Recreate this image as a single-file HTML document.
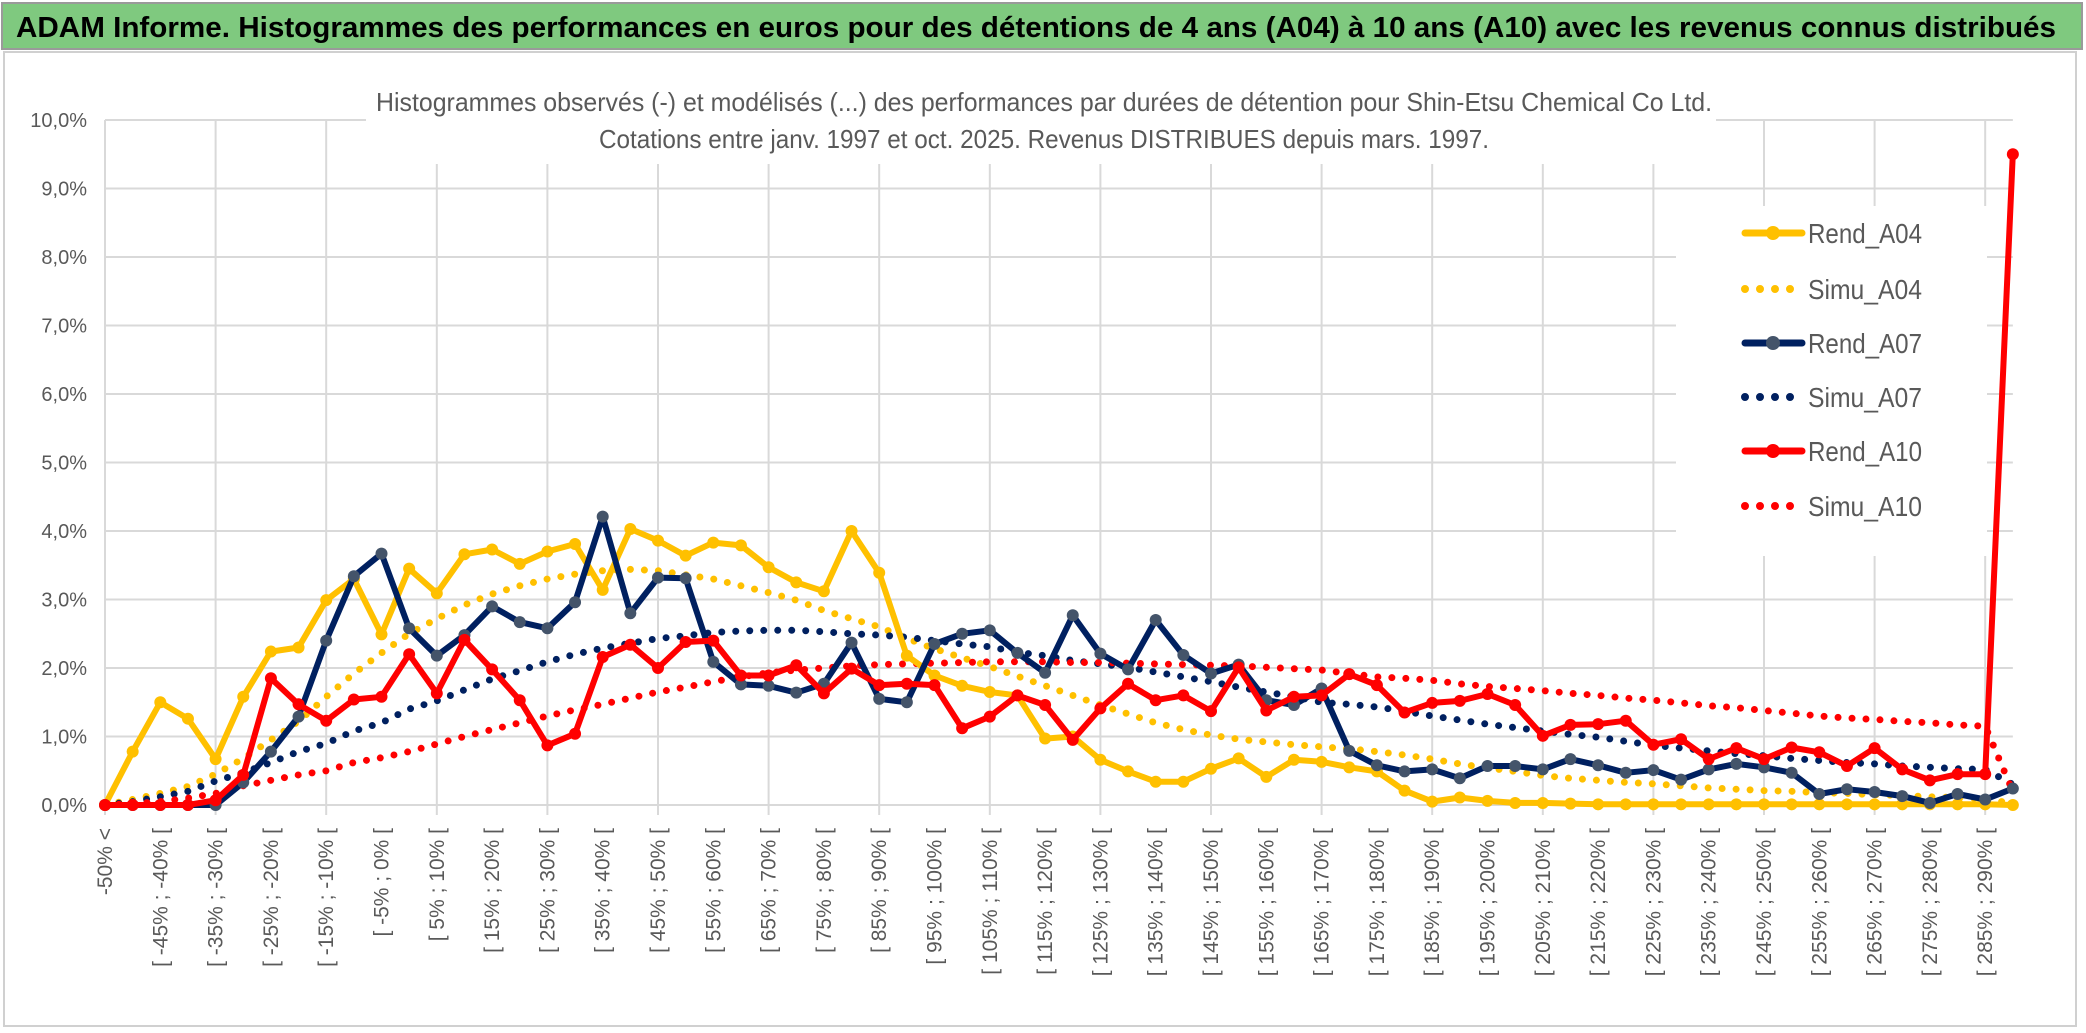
<!DOCTYPE html>
<html><head><meta charset="utf-8"><style>
html,body{margin:0;padding:0;background:#fff;}
svg{display:block;font-family:"Liberation Sans",sans-serif;}
</style></head><body>
<svg id="chart" width="2086" height="1033" viewBox="0 0 2086 1033">
<rect x="0" y="0" width="2086" height="1033" fill="#fff"/>
<rect x="2" y="3" width="2080" height="46" fill="#7fc97f" stroke="#9a9a9a" stroke-width="2"/>
<text x="1036" y="37" text-anchor="middle" font-size="29" font-weight="bold" fill="#000" textLength="2040" lengthAdjust="spacingAndGlyphs">ADAM Informe. Histogrammes des performances en euros pour des détentions de 4 ans (A04) à 10 ans (A10) avec les revenus connus distribués</text>
<rect x="4" y="52" width="2072" height="974" fill="none" stroke="#d0d0d0" stroke-width="2"/>
<g id="grid"></g>
<rect x="366" y="80" width="1350" height="84" fill="#fff"/>
<text x="1044" y="111" text-anchor="middle" font-size="26" fill="#595959" textLength="1336" lengthAdjust="spacingAndGlyphs">Histogrammes observés (-) et modélisés (...) des performances par durées de détention pour Shin-Etsu Chemical Co Ltd.</text>
<text x="1044" y="148" text-anchor="middle" font-size="26" fill="#595959" textLength="890" lengthAdjust="spacingAndGlyphs">Cotations entre janv. 1997 et oct. 2025. Revenus DISTRIBUES depuis mars. 1997.</text>
<rect x="1676" y="206" width="311" height="350" fill="#fff"/>
<g id="yaxis"></g>
<g id="xaxis"></g>
<g id="series"></g>
<g id="legend"></g>
</svg>
<script>
const yTicks = [0,1,2,3,4,5,6,7,8,9,10];
const rendA04 = [0,0.78,1.5,1.26,0.67,1.58,2.24,2.3,2.99,3.3, 2.49,3.45,3.09,3.66,3.73,3.52,3.7,3.81,3.14,4.03, 3.86,3.64,3.83,3.79,3.47,3.25,3.12,4.0,3.39,2.18, 1.89,1.74,1.65,1.6,0.97,1.0,0.66,0.49,0.34,0.34, 0.53,0.68,0.41,0.66,0.63,0.55,0.49,0.21,0.05,0.11, 0.06,0.03,0.03,0.02,0.01,0.01,0.01,0.01,0.01,0.01, 0.01,0.01,0.01,0.01,0.01,0.01,0.01,0.01,0.01,0];
const simuA04 = [0,0.08,0.17,0.27,0.45,0.68,0.95,1.22,1.58,1.92, 2.22,2.5,2.72,2.92,3.08,3.2,3.3,3.37,3.42,3.44, 3.42,3.36,3.3,3.2,3.1,2.99,2.84,2.72,2.6,2.43, 2.28,2.15,2.02,1.88,1.74,1.6,1.46,1.33,1.2,1.1, 1.02,0.96,0.92,0.88,0.85,0.82,0.78,0.73,0.67,0.6, 0.54,0.49,0.43,0.39,0.36,0.33,0.31,0.28,0.25,0.23, 0.21,0.2,0.18,0.17,0.15,0.14,0.12,0.11,0.09,0.02];
const rendA07 = [0,0,0,0,0,0.33,0.78,1.29,2.4,3.34, 3.67,2.58,2.18,2.48,2.9,2.67,2.58,2.96,4.21,2.8, 3.32,3.31,2.09,1.76,1.74,1.64,1.77,2.37,1.55,1.5, 2.35,2.5,2.55,2.22,1.93,2.77,2.21,1.98,2.7,2.19, 1.92,2.05,1.53,1.46,1.7,0.79,0.58,0.49,0.52,0.39, 0.57,0.57,0.52,0.67,0.58,0.47,0.51,0.37,0.52,0.6, 0.55,0.47,0.16,0.23,0.19,0.13,0.03,0.16,0.08,0.24];
const simuA07 = [0,0.05,0.12,0.2,0.35,0.47,0.62,0.78,0.9,1.08, 1.2,1.4,1.52,1.68,1.84,1.96,2.09,2.2,2.29,2.36, 2.43,2.47,2.52,2.54,2.55,2.55,2.53,2.5,2.48,2.45, 2.4,2.35,2.31,2.23,2.18,2.11,2.06,2.01,1.94,1.87, 1.8,1.72,1.65,1.58,1.5,1.47,1.43,1.37,1.3,1.24, 1.18,1.13,1.08,1.03,0.99,0.93,0.87,0.83,0.79,0.75, 0.72,0.68,0.65,0.62,0.6,0.57,0.55,0.53,0.52,0.3];
const rendA10 = [0,0,0,0,0.07,0.44,1.85,1.47,1.23,1.54, 1.58,2.2,1.63,2.41,1.98,1.53,0.87,1.04,2.16,2.34, 2.0,2.38,2.4,1.89,1.89,2.04,1.63,1.99,1.75,1.77, 1.75,1.12,1.29,1.6,1.46,0.95,1.41,1.77,1.53,1.6, 1.37,2.01,1.38,1.58,1.6,1.91,1.75,1.35,1.49,1.52, 1.62,1.46,1.01,1.17,1.18,1.23,0.88,0.96,0.67,0.83, 0.67,0.84,0.77,0.57,0.83,0.52,0.36,0.45,0.45,9.5];
const simuA10 = [0,0.02,0.05,0.1,0.17,0.28,0.36,0.44,0.5,0.62, 0.69,0.78,0.89,1.0,1.1,1.2,1.3,1.39,1.47,1.56, 1.65,1.72,1.8,1.87,1.93,1.97,2.0,2.03,2.05,2.06, 2.07,2.08,2.09,2.09,2.09,2.08,2.08,2.07,2.06,2.05, 2.04,2.03,2.01,1.99,1.97,1.92,1.87,1.85,1.82,1.77, 1.73,1.7,1.67,1.63,1.6,1.56,1.53,1.49,1.45,1.42, 1.38,1.34,1.3,1.27,1.25,1.22,1.2,1.17,1.15,0.2];
const seriesNames = ["Rend_A04","Simu_A04","Rend_A07","Simu_A07","Rend_A10","Simu_A10"];

const categories = [];
categories.push("-50% <");
for (let k = 1; k < 70; k++) { const a = -50 + 5*(k-1); categories.push("[ " + a + "% ; " + (a+5) + "% ["); }

const NS = "http://www.w3.org/2000/svg";
const X0 = 105, DX = 27.65, Y0 = 805, YSC = 68.5;
function xs(i){ return X0 + DX*i; }
function ys(v){ return Y0 - YSC*v; }
function mk(tag, attrs, parent){ const e = document.createElementNS(NS, tag); for (const k in attrs) e.setAttribute(k, attrs[k]); parent.appendChild(e); return e; }

const grid = document.getElementById('grid');
for (const t of yTicks) {
  const l = mk('line', {x1: X0, x2: xs(69), y1: ys(t), y2: ys(t), stroke: '#d9d9d9', 'stroke-width': 2}, grid);
  
  
}
for (let i = 0; i < categories.length; i += 4) {
  const l = mk('line', {x1: xs(i), x2: xs(i), y1: ys(10), y2: ys(0) + 10, stroke: '#d9d9d9', 'stroke-width': 2}, grid);
  
  
}

const yaxis = document.getElementById('yaxis');
for (const t of yTicks) {
  const tx = mk('text', {x: 87, y: ys(t) + 7, 'text-anchor': 'end', 'font-size': 20, fill: '#595959'}, yaxis);
  tx.textContent = t.toFixed(1).replace('.', ',') + '%';
  
  
}
const xaxis = document.getElementById('xaxis');
for (let i = 0; i < categories.length; i += 2) {
  const x = xs(i) + 7, y = 828;
  const tx = mk('text', {x: x, y: y, 'text-anchor': 'end', 'font-size': 21, fill: '#595959', transform: 'rotate(-90 ' + x + ' ' + y + ')'}, xaxis);
  tx.textContent = categories[i];
  
  
}

const series = document.getElementById('series');
function pts(arr){ return arr.map((v,i) => xs(i).toFixed(1) + ',' + ys(v).toFixed(1)).join(' '); }
function dotted(arr, color, name){
  const p = mk('polyline', {points: pts(arr), fill: 'none', stroke: color, 'stroke-width': 7, 'stroke-linecap': 'round', 'stroke-dasharray': '0 14'}, series);
  
  
}
function solid(arr, color, mcolor, name){
  const g = mk('g', {}, series);
  
  
  mk('polyline', {points: pts(arr), fill: 'none', stroke: color, 'stroke-width': 6, 'stroke-linejoin': 'round'}, g);
  arr.forEach((v,i) => {
    const c = mk('circle', {cx: xs(i), cy: ys(v), r: 6, fill: mcolor}, g);
    
    
  });
}
dotted(simuA04, '#ffc000', 'simu-a04-line');
dotted(simuA07, '#002060', 'simu-a07-line');
dotted(simuA10, '#ff0000', 'simu-a10-line');
solid(rendA04, '#ffc000', '#ffc000', 'rend-a04-line');
solid(rendA07, '#002060', '#44546a', 'rend-a07-line');
solid(rendA10, '#ff0000', '#ff0000', 'rend-a10-line');

const legend = document.getElementById('legend');
const legColors = ['#ffc000','#ffc000','#002060','#002060','#ff0000','#ff0000'];
const legMarker = ['#ffc000','#ffc000','#44546a','#002060','#ff0000','#ff0000'];
const legY = [233,289,343,397,451,506];
seriesNames.forEach((n, k) => {
  const g = mk('g', {}, legend);
  
  
  const y = legY[k];
  if (k % 2 === 0) {
    mk('line', {x1: 1745, x2: 1802, y1: y, y2: y, stroke: legColors[k], 'stroke-width': 7, 'stroke-linecap': 'round'}, g);
    mk('circle', {cx: 1773, cy: y, r: 7, fill: legMarker[k]}, g);
  } else {
    mk('line', {x1: 1745, x2: 1802, y1: y, y2: y, stroke: legColors[k], 'stroke-width': 8, 'stroke-linecap': 'round', 'stroke-dasharray': '0 15'}, g);
  }
  const t = mk('text', {x: 1808, y: y + 10, 'font-size': 28, fill: '#595959', textLength: 114, lengthAdjust: 'spacingAndGlyphs'}, g);
  t.textContent = n;
});
</script>
</body></html>
